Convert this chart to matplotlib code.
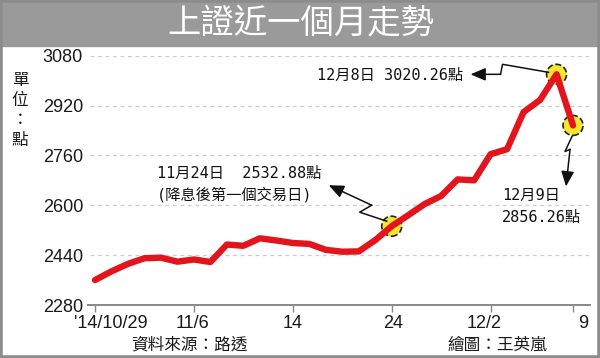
#!/usr/bin/env python3
"""Shanghai Composite, last month (Oct 29 - Dec 9, 2014)."""

import matplotlib

matplotlib.use("Agg")
import matplotlib.pyplot as plt
from matplotlib.patches import Rectangle
from matplotlib.transforms import offset_copy

plt.rcParams["font.family"] = ["Liberation Sans", "Noto Sans CJK TC"]

# trading days 10/29 .. 12/9
dates = [
    "10/29", "10/30", "10/31", "11/3", "11/4", "11/5", "11/6", "11/7", "11/10", "11/11",
    "11/12", "11/13", "11/14", "11/17", "11/18", "11/19", "11/20", "11/21", "11/24", "11/25",
    "11/26", "11/27", "11/28", "12/1", "12/2", "12/3", "12/4", "12/5", "12/8", "12/9",
]
values = [
    2360, 2388, 2412, 2430, 2432, 2419, 2426, 2418, 2474, 2470,
    2494, 2487, 2479, 2476, 2457, 2451, 2452, 2488, 2532.88, 2568,
    2604, 2630, 2683, 2680, 2764, 2780, 2899, 2938, 3020.26, 2856.26,
]
y_ticks = [2280, 2440, 2600, 2760, 2920, 3080]
x_tick_idx = [0, 6, 12, 18, 24, 29]
x_tick_labels = ["'14/10/29", "11/6", "14", "24", "12/2", "9"]
highlight_idx = [18, 28, 29]

title = "上證近一個月走勢"
unit_chars = ["單", "位", "：", "點"]
source = "資料來源：路透"
credit = "繪圖：王英嵐"

W, H = 600, 358
CJK_MONO = ["DejaVu Sans Mono", "Noto Sans CJK TC"]


def fxy(px, py):
    return px / W, 1 - py / H


def zigzag(ax, idx, offsets):
    cx, cy = ax.transData.transform((idx, values[idx]))
    inv = ax.transData.inverted()
    pts = [inv.transform((cx + dx, cy - dy)) for dx, dy in offsets]
    ax.plot([p[0] for p in pts[:-1]], [p[1] for p in pts[:-1]],
            color="#111111", lw=1.1, zorder=4, clip_on=False)
    ax.annotate("", xy=pts[-1], xytext=pts[-2], annotation_clip=False,
                arrowprops=dict(arrowstyle="-|>,head_length=0.7,head_width=0.3",
                                color="#111111", lw=1.1, mutation_scale=13,
                                shrinkA=0, shrinkB=0), zorder=4)


fig = plt.figure(figsize=(6, 3.58), dpi=100)
fig.add_artist(Rectangle((0, 1 - 46 / H), 1, 46 / H, transform=fig.transFigure,
                         color="#9a9a9a", zorder=0))
fig.add_artist(Rectangle((0, 0), 1, 1, transform=fig.transFigure, fill=False,
                         edgecolor="#8c8c8c", lw=4, zorder=10))
fig.text(*fxy(301, 23), title, color="white", fontsize=24, ha="center", va="center",
         family="Noto Sans CJK TC")

ax = fig.add_axes([88 / W, (H - 305) / H, (590 - 88) / W, (305 - 55.7) / H])
ax.set_ylim(2280, 3080)
ax.set_xlim(-0.425, 30.03)
for side in ("top", "right", "left"):
    ax.spines[side].set_visible(False)
ax.spines["bottom"].set_color("#888888")
ax.spines["bottom"].set_linewidth(1.4)

for y in y_ticks[1:]:
    ax.axhline(y, xmin=0.004, color="#cccccc", lw=0.9, ls=(0, (3, 3)), zorder=1)

ax.set_yticks(y_ticks)
ax.tick_params(axis="y", length=0, pad=3.6, labelsize=13, labelcolor="#1a1a1a")
ax.set_xticks(x_tick_idx, labels=[""] * len(x_tick_idx))
ax.tick_params(axis="x", length=5, width=1, color="#888888", direction="out")

label_shift = [16, -1, 0, 1, -6, 10]
for pos, lbl, dx in zip(x_tick_idx, x_tick_labels, label_shift):
    trans = offset_copy(ax.get_xaxis_transform(), fig=fig, x=dx, y=-19, units="dots")
    ax.text(pos, 0, lbl, transform=trans, ha="center", va="center", fontsize=13,
            color="#1a1a1a")

ax.plot(range(len(values)), values, color="#e3141b", lw=4.6, solid_capstyle="round",
        solid_joinstyle="round", zorder=3, clip_on=False)
ax.scatter(highlight_idx, [values[i] for i in highlight_idx], s=207, color="#f7e62c",
           edgecolors="#222222", linewidths=1.2, linestyles="--", zorder=2, clip_on=False)

zigzag(ax, 18, [(-5, -5), (-32, -14), (-20, -21), (-63, -41)])
zigzag(ax, 28, [(-8, -2), (-54, -10), (-56, 0), (-86, 0)])
zigzag(ax, 29, [(-1, 11), (-8, 26), (-3, 24), (-7, 61)])

fig.text(*fxy(157, 173), "11月24日  2532.88點", fontsize=11, ha="left", va="center",
         family=CJK_MONO, color="#111111")
fig.text(*fxy(157, 195), "(降息後第一個交易日)", fontsize=11, ha="left", va="center",
         family=CJK_MONO, color="#111111")
fig.text(*fxy(463, 75), "12月8日 3020.26點", fontsize=11, ha="right", va="center",
         family=CJK_MONO, color="#111111")
fig.text(*fxy(502, 195), "12月9日", fontsize=11, ha="left", va="center",
         family=CJK_MONO, color="#111111")
fig.text(*fxy(502, 217), "2856.26點", fontsize=11, ha="left", va="center",
         family=CJK_MONO, color="#111111")

for i, ch in enumerate(unit_chars):
    fig.text(*fxy(20, 81 + i * 20), ch, fontsize=12, ha="center", va="center",
             family="Noto Sans CJK TC", color="#1a1a1a")

fig.text(*fxy(189, 345), source, fontsize=12, ha="center", va="center",
         family="Noto Sans CJK TC", color="#1a1a1a")
fig.text(*fxy(497, 345), credit, fontsize=12, ha="center", va="center",
         family="Noto Sans CJK TC", color="#1a1a1a")

fig.savefig("out.png", dpi=100)
plt.close(fig)
